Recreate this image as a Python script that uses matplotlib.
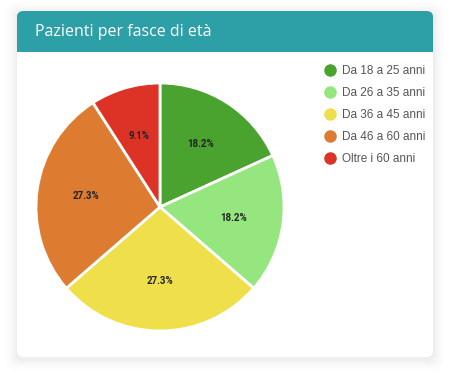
import matplotlib.pyplot as plt
from matplotlib.patches import FancyBboxPatch
from matplotlib.lines import Line2D

# dati
fasce = ["Da 18 a 25 anni", "Da 26 a 35 anni", "Da 36 a 45 anni",
         "Da 46 a 60 anni", "Oltre i 60 anni"]
pazienti = [2, 2, 3, 3, 1]
colori = ["#4aa22f", "#95e67f", "#eedf4b", "#dd7b31", "#dd3226"]
titolo = "Pazienti per fasce di età"

W, H = 450, 381
fig = plt.figure(figsize=(W / 100, H / 100), dpi=100)
fig.patch.set_facecolor("white")


def fx(x):
    return x / W


def fy(y):
    return 1 - y / H


# ombra della card
for i, a in enumerate([0.02, 0.016, 0.012, 0.009, 0.006, 0.004]):
    g = 2 + i * 2
    fig.patches.append(FancyBboxPatch(
        (fx(17 - g), fy(357 + g + 2)), fx(416 + 2 * g), (346 + 2 * g) / H,
        boxstyle="round,pad=0,rounding_size=0.02", transform=fig.transFigure,
        facecolor="black", edgecolor="none", alpha=a, zorder=0))

# card
fig.patches.append(FancyBboxPatch(
    (fx(17), fy(357)), fx(416), 346 / H,
    boxstyle="round,pad=0,rounding_size=0.015", transform=fig.transFigure,
    facecolor="white", edgecolor="none", zorder=1))
# intestazione
fig.patches.append(FancyBboxPatch(
    (fx(17), fy(52)), fx(416), 41 / H,
    boxstyle="round,pad=0,rounding_size=0.015", transform=fig.transFigure,
    facecolor="#2ca0a6", edgecolor="none", zorder=2))
fig.patches.append(plt.Rectangle(
    (fx(17), fy(52)), fx(416), 15 / H, transform=fig.transFigure,
    facecolor="#2ca0a6", edgecolor="none", zorder=2))
fig.text(fx(35), fy(32), titolo, color="white", fontsize=11.5,
         family="Open Sans", va="center", ha="left", zorder=3)

# torta
r = 124
cx, cy = 160, 207
ax = fig.add_axes([fx(cx - r), fy(cy + r), 2 * r / W, 2 * r / H])
ax.set_zorder(3)
wedges, texts, autotexts = ax.pie(
    pazienti, colors=colori, startangle=90, counterclock=False,
    autopct="%1.1f%%", pctdistance=0.6,
    wedgeprops=dict(edgecolor="white", linewidth=2),
    textprops=dict(fontsize=7, fontweight="bold", color="#222222",
                   family="Roboto"))
for w in wedges:
    w.set_clip_on(False)
ax.set_aspect("equal")
ax.set_xlim(-1, 1)
ax.set_ylim(-1, 1)

# legenda
handles = [Line2D([], [], marker="o", linestyle="none", markersize=8,
                  markerfacecolor=c, markeredgecolor=c) for c in colori]
leg = fig.legend(handles, fasce, loc="upper left",
                 bbox_to_anchor=(fx(318), fy(60)), frameon=False,
                 labelspacing=0.85, handletextpad=0.4,
                 handlelength=1.2, borderaxespad=0,
                 prop=dict(family="Liberation Sans", size=8.5))
for t in leg.get_texts():
    t.set_color("#555555")
leg.set_zorder(4)

fig.savefig("out.png", dpi=100)
